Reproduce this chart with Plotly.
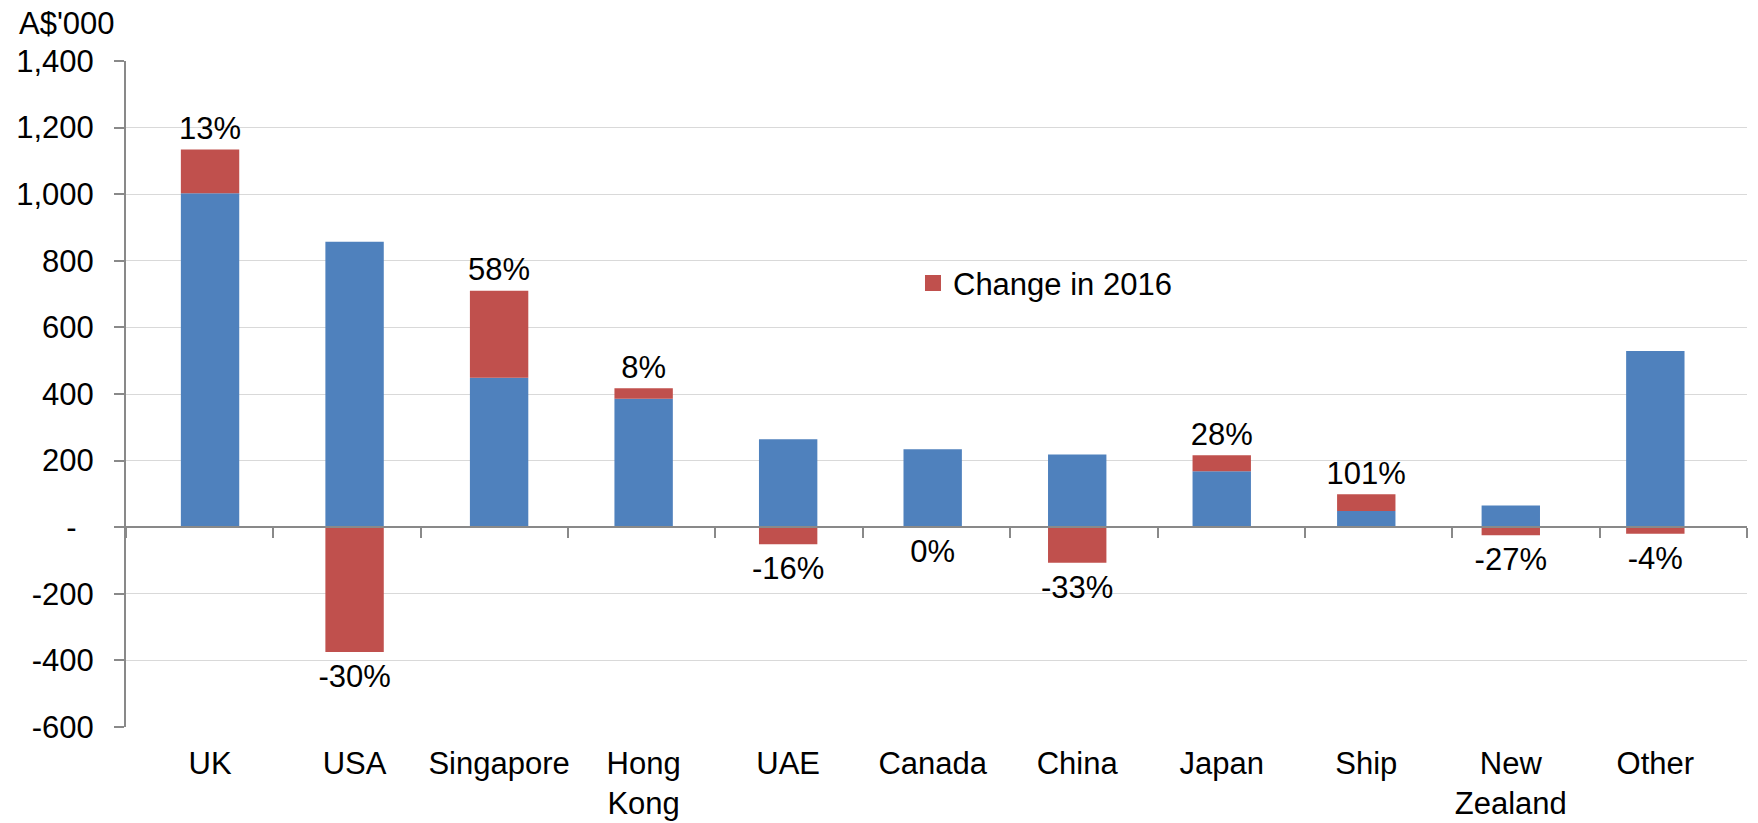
import plotly.graph_objects as go

# Data (A$'000)
countries = ["UK", "USA", "Singapore", "Hong<br>Kong", "UAE", "Canada", "China",
             "Japan", "Ship", "New<br>Zealand", "Other"]
base_values = [1003, 857, 449, 386, 264, 234, 218, 168, 49, 65, 529]
change_values = [131, -375, 261, 31, -51, 0, -107, 48, 50, -24, -20]
pct_labels = ["13%", "-30%", "58%", "8%", "-16%", "0%", "-33%", "28%", "101%", "-27%", "-4%"]

y_ticks = [-600, -400, -200, 0, 200, 400, 600, 800, 1000, 1200, 1400]
y_ticktext = ["-600", "-400", "-200", "-\u00a0\u00a0", "200", "400", "600", "800",
              "1,000", "1,200", "1,400"]

BLUE = "#4F81BD"
RED = "#C0504D"
GRID = "#D9D9D9"
AXIS = "#898989"
FONT = "Liberation Sans, Arial, sans-serif"
FS = 31

ymin, ymax = -600, 1400

fig = go.Figure()

fig.add_bar(x=countries, y=base_values, marker=dict(color=BLUE, line=dict(width=0)),
            showlegend=False, name="Base")
fig.add_bar(x=countries, y=change_values, marker=dict(color=RED, line=dict(width=0)),
            showlegend=False, name="Change in 2016")

# legend entry only (larger square than the default bar icon)
fig.add_scatter(x=[None], y=[None], mode="markers", name="Change in 2016",
                marker=dict(symbol="square", size=16, color=RED))

# percentage labels: above the stack for increases, below for decreases
label_y = []
label_pos = []
label_pad = []
for b, c in zip(base_values, change_values):
    if c > 0:
        label_y.append(b + c)
        label_pos.append("top center")
        label_pad.append(3)
    else:
        label_y.append(c)
        label_pos.append("bottom center")
        label_pad.append(17)

fig.add_scatter(x=countries, y=label_y, mode="markers+text", text=pct_labels,
                textposition=label_pos, marker=dict(size=label_pad, opacity=0),
                textfont=dict(size=FS, color="black", family=FONT),
                showlegend=False, hoverinfo="skip", cliponaxis=False)

# dummy trace so the zero-line axis gets drawn
fig.add_scatter(x=[None], y=[None], xaxis="x2", showlegend=False, hoverinfo="skip")

# page body has an 8px default margin, so the figure is offset by 8px
fig.update_layout(
    width=1742, height=815,
    margin=dict(l=118, r=3, t=53, b=96),
    plot_bgcolor="white", paper_bgcolor="white",
    barmode="relative", bargap=0.596,
    font=dict(family=FONT, size=FS, color="black"),
    showlegend=True,
    legend=dict(x=0.4855, y=0.666, xanchor="left", yanchor="middle",
                bgcolor="rgba(0,0,0,0)", font=dict(size=FS)),
    xaxis=dict(showline=False, ticks="", showgrid=False, zeroline=False,
               tickfont=dict(size=FS), ticklabelstandoff=15, automargin=False),
    # category boundary ticks along the zero line
    xaxis2=dict(overlaying="x", anchor="free", side="bottom",
                position=(0 - ymin) / (ymax - ymin),
                range=[-0.5, len(countries) - 0.5],
                tickmode="array", tickvals=[i - 0.5 for i in range(len(countries) + 1)],
                showticklabels=False, ticks="outside", ticklen=10, tickwidth=1.5,
                tickcolor=AXIS, showline=True, linecolor=AXIS, linewidth=2,
                showgrid=False, zeroline=False, automargin=False),
    yaxis=dict(range=[ymin, ymax], tickmode="array", tickvals=y_ticks, ticktext=y_ticktext,
               showgrid=True, gridcolor=GRID, gridwidth=1.3, zeroline=False,
               showline=True, linecolor=AXIS, linewidth=2,
               ticks="outside", ticklen=10, tickwidth=1.5, tickcolor=AXIS,
               ticklabelstandoff=14, tickfont=dict(size=FS), automargin=False),
)

fig.add_annotation(text="A$'000", xref="paper", yref="paper", x=-0.0672, y=1.0565,
                   xanchor="left", yanchor="middle", showarrow=False,
                   font=dict(size=FS, color="black", family=FONT))

fig.write_html("out.html")
